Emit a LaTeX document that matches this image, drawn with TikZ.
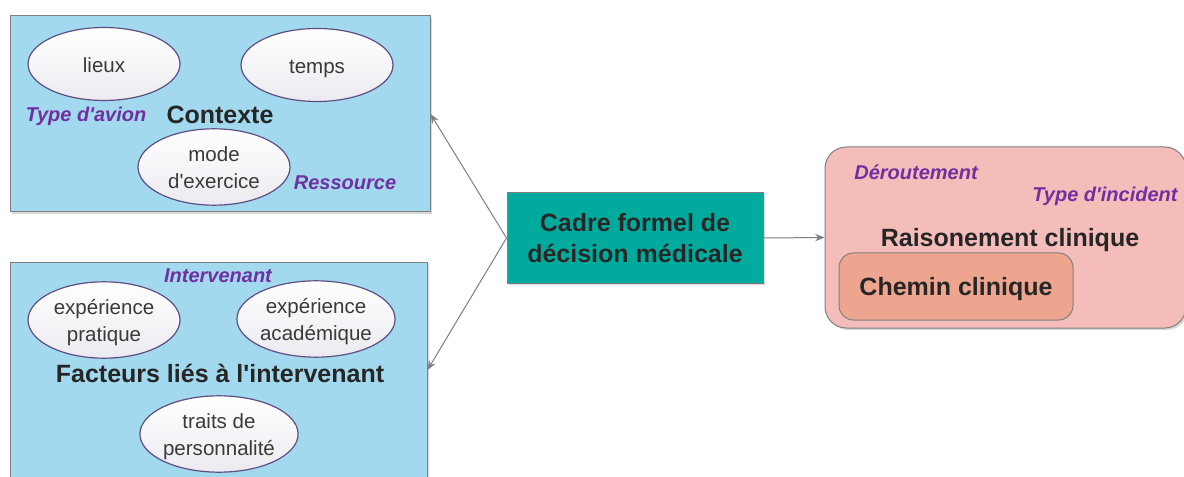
\documentclass[tikz,border=0pt]{standalone}
\usepackage{fontspec}
\setmainfont{Liberation Sans}[Ligatures=TeXOff]
\usetikzlibrary{shapes.geometric,shadows,arrows.meta}
\definecolor{boxblue}{HTML}{A3D9EF}
\definecolor{tealbox}{HTML}{00AB9E}
\definecolor{pinkbg}{HTML}{F5BDBA}
\definecolor{salmonbox}{HTML}{EDA58F}
\definecolor{purp}{HTML}{7030A0}
\definecolor{ellborder}{HTML}{5E4F82}
\definecolor{txtdark}{HTML}{262626}
\definecolor{txtell}{HTML}{3A3A3A}
\definecolor{linegray}{HTML}{7F7F7F}
\newcommand\ovtext[1]{\raisebox{-2.25pt}[\height][\depth]{\begin{tabular}{@{}c@{}}#1\end{tabular}}}
\tikzset{
  shadowed/.style={drop shadow={shadow xshift=1.5pt,shadow yshift=-1.5pt,fill=black!30,opacity=0.5}},
  panel/.style={rectangle,draw=linegray,line width=0.75pt,fill=boxblue,inner sep=0,shadowed},
  oval/.style={ellipse,draw=ellborder,line width=0.9pt,top color=white,bottom color=ellborder!12,
    minimum width=114pt,minimum height=54.75pt,inner sep=0,text=txtell,
    font=\fontsize{15.4pt}{20.25pt}\selectfont},
  headline/.style={font=\bfseries\fontsize{18.75pt}{23.25pt}\selectfont,text=txtdark,inner sep=0,align=center},
  tag/.style={font=\bfseries\itshape\fontsize{15pt}{18pt}\selectfont,text=purp,inner sep=0},
  link/.style={draw=linegray,line width=0.75pt,-{Stealth[length=7pt,width=5.5pt]}}
}
\begin{document}
\begin{tikzpicture}[x=0.75pt,y=-0.75pt]
\useasboundingbox (0,0) rectangle (1184,477);
\clip (0,0) rectangle (1184,477);
\fill[white] (0,0) rectangle (1184,477);

% panels
\node[panel,minimum width=315pt,minimum height=147pt] (ctx) at (220,114) {};
\node[panel,minimum width=312.75pt,minimum height=162pt] (fac) at (218.5,370) {};
\node[rectangle,draw=linegray,line width=0.75pt,fill=tealbox,inner sep=0,shadowed,
  minimum width=192pt,minimum height=67.5pt,headline] (cadre) at (635,238)
  {Cadre formel de\\décision médicale};
\node[rectangle,rounded corners=16pt,draw=linegray,line width=0.75pt,fill=pinkbg,inner sep=0,shadowed,
  minimum width=270.75pt,minimum height=135.75pt] (rais) at (1005.5,237.5) {};
\node[rectangle,rounded corners=11pt,draw=linegray,line width=0.75pt,fill=salmonbox,inner sep=0,
  minimum width=175.5pt,minimum height=50.25pt,headline,text depth=0pt] (chemin) at (956,286.5) {Chemin clinique};

% context ellipses
\node[oval] (lieux) at (104,64) {\ovtext{lieux}};
\node[oval] (temps) at (317,65) {\ovtext{temps}};
\node[oval] (mode) at (214,167) {\ovtext{mode\\d'exercice}};
\node[headline] (ctxt) at (220,115) {Contexte};
\node[tag] (avion) at (86,116) {Type d'avion};
\node[tag] (ress) at (345,183) {Ressource};

% facteurs ellipses
\node[tag] (interv) at (218,276) {Intervenant};
\node[oval] (prat) at (104,320) {\ovtext{expérience\\pratique}};
\node[oval] (acad) at (316,319) {\ovtext{expérience\\académique}};
\node[headline] (fact) at (220,373) {Facteurs liés à l'intervenant};
\node[oval,minimum width=113.25pt,minimum height=54pt] (traits) at (219,434) {\ovtext{traits de\\personnalité}};

% right labels
\node[tag] (derout) at (916,172) {Déroutement};
\node[tag] (incid) at (1105,196) {Type d'incident};
\node[headline] (raist) at (1010,240) {Raisonement clinique};

% connectors
\draw[link] (cadre.west) -- (ctx.east);
\draw[link] (cadre.west) -- (fac.east);
\draw[link] (cadre.east) -- (rais.west);
\end{tikzpicture}
\end{document}
